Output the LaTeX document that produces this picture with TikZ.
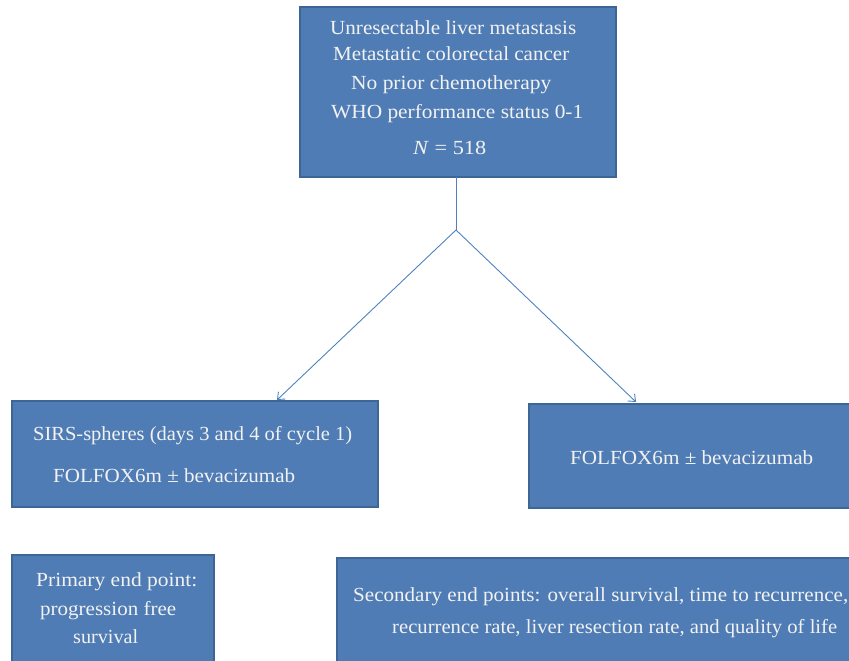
\documentclass[tikz,border=0pt]{standalone}
\usepackage{fontspec}
\setmainfont{Liberation Serif}
\usetikzlibrary{arrows.meta}
\definecolor{boxfill}{HTML}{4F7CB4}
\definecolor{boxline}{HTML}{3D6596}
\definecolor{lineblue}{HTML}{4F81BD}
\definecolor{txt}{HTML}{F2F2F2}
\newcommand{\fw}[2]{\resizebox{#1}{\height}{#2}}
\begin{document}
\begin{tikzpicture}[x=1pt,y=-1pt,
  bx/.style={draw=boxline,fill=boxfill,line width=1.2pt,inner sep=0pt,outer sep=0pt},
  tx/.style={text=txt,font=\fontsize{20}{24}\selectfont,inner sep=0pt,anchor=base west},
  cn/.style={draw=lineblue,line width=0.9pt},
  ar/.style={cn,-{Straight Barb[length=6pt,width=10pt,line width=0.9pt]}}]
\useasboundingbox (0,0) rectangle (849,661);
\clip (0,0) rectangle (849,661);
% boxes
\node[bx,minimum width=316pt,minimum height=170pt] (top) at (458,92) {};
\node[bx,minimum width=366pt,minimum height=106pt] (lbox) at (195,454) {};
\node[bx,minimum width=340pt,minimum height=104pt] (rbox) at (699,456) {};
\node[bx,minimum width=202pt,minimum height=120pt] (pbox) at (113,615) {};
\node[bx,minimum width=540pt,minimum height=120pt] (sbox) at (607,618) {};
% texts
\node[tx] (t1) at (330,35) {\fw{246pt}{Unresectable liver metastasis}};
\node[tx] (t2) at (333,61) {\fw{236pt}{Metastatic colorectal cancer}};
\node[tx] (t3) at (351,89) {\fw{200pt}{No prior chemotherapy}};
\node[tx] (t4) at (331,118) {\fw{252pt}{WHO performance status 0-1}};
\node[tx] (t5) at (413,154) {\fw{73pt}{\textit{N} = 518}};
\node[tx] (l1) at (33,440) {\fw{319pt}{SIRS-spheres (days 3 and 4 of cycle 1)}};
\node[tx] (l2) at (53,482) {\fw{242pt}{FOLFOX6m ± bevacizumab}};
\node[tx] (r1) at (570,464) {\fw{243pt}{FOLFOX6m ± bevacizumab}};
\node[tx] (p1) at (36,586) {\fw{161pt}{Primary end point:}};
\node[tx] (p2) at (40,615) {\fw{136pt}{progression free}};
\node[tx] (p3) at (73,643) {\fw{65pt}{survival}};
\node[tx] (s1) at (353,601) {\fw{495pt}{Secondary end points: overall survival, time to recurrence,}};
\node[tx] (s2) at (392,633) {\fw{445pt}{recurrence rate, liver resection rate, and quality of life}};
% connectors
\coordinate (split) at (456,230);
\draw[cn] (top.south -| split) -- (split);
\draw[ar] (split) -- ([xshift=82pt,yshift=1pt]lbox.north);
\draw[ar] (split) -- ([xshift=-63pt,yshift=2pt]rbox.north);
\end{tikzpicture}
\end{document}
